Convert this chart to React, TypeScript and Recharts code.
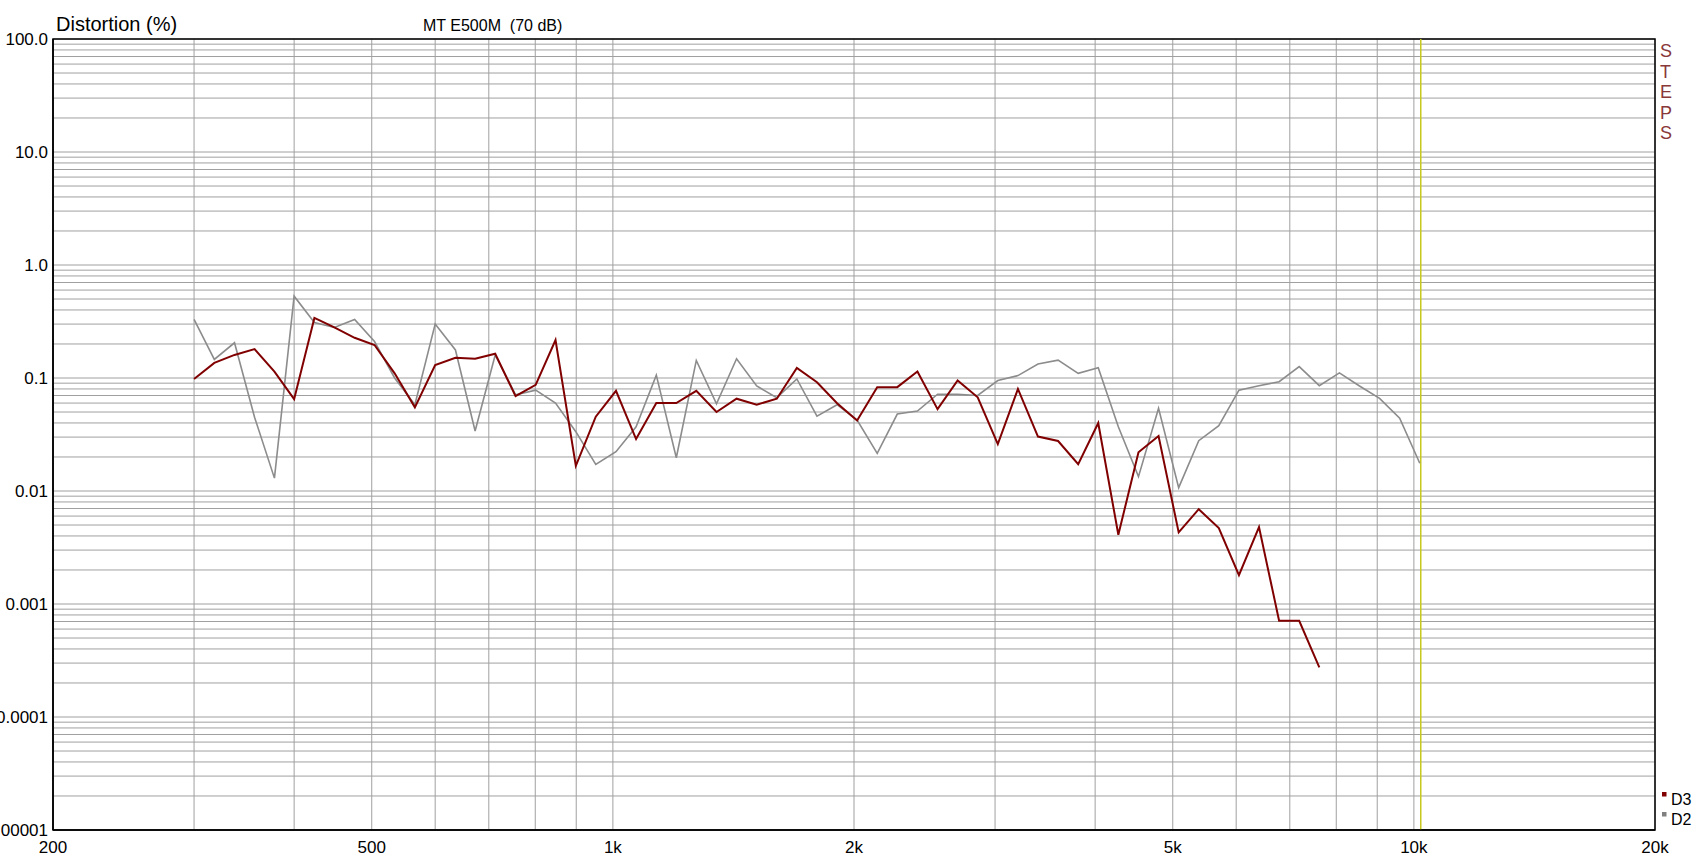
import { LineChart, Line, XAxis, YAxis, CartesianGrid, ReferenceLine, ReferenceArea } from "recharts";

// 1/12 octave measurement points (Hz)
const freqs = [
    300, 318, 337, 357, 378, 400, 424, 449, 476, 504, 534, 566, 600, 636, 673, 713, 756, 801, 848, 899,
    952, 1009, 1069, 1133, 1200, 1271, 1347, 1427, 1512, 1602, 1697, 1798, 1905, 2018, 2138, 2265, 2400,
    2543, 2694, 2854, 3024, 3204, 3394, 3596, 3810, 4036, 4276, 4531, 4800, 5086, 5388, 5708, 6048, 6407,
    6788, 7192, 7620, 8073, 8553, 9061, 9600, 10171,
];

// third harmonic distortion (%)
const d3 = [
    0.098, 0.136, 0.16, 0.18, 0.114, 0.065, 0.34, 0.28, 0.227, 0.196, 0.11, 0.055, 0.13, 0.151, 0.148,
    0.164, 0.069, 0.087, 0.217, 0.0167, 0.0455, 0.077, 0.0288, 0.06, 0.06, 0.077, 0.05, 0.0656, 0.058,
    0.0656, 0.123, 0.0916, 0.0597, 0.042, 0.083, 0.083, 0.114, 0.053, 0.095, 0.0675, 0.026, 0.08, 0.0303,
    0.0277, 0.0173, 0.04, 0.0041, 0.022, 0.0307, 0.0043, 0.0069, 0.0047, 0.0018, 0.0048, 0.00071, 0.00071,
    0.000275,
];

// second harmonic distortion (%)
const d2 = [
    0.33, 0.146, 0.205, 0.045, 0.013, 0.53, 0.31, 0.28, 0.33, 0.21, 0.1, 0.058, 0.3, 0.177, 0.034, 0.16,
    0.071, 0.078, 0.06, 0.0335, 0.0172, 0.0223, 0.037, 0.106, 0.0197, 0.143, 0.059, 0.148, 0.085, 0.067,
    0.098, 0.046, 0.058, 0.0425, 0.0215, 0.048, 0.051, 0.0718, 0.0718, 0.07, 0.095, 0.105, 0.133, 0.144,
    0.11, 0.123, 0.037, 0.0134, 0.054, 0.0107, 0.0279, 0.0379, 0.078, 0.0855, 0.0927, 0.126, 0.0855,
    0.111, 0.085, 0.066, 0.044, 0.0176,
];

const xGrid = [
    200, 300, 400, 500, 600, 700, 800, 900, 1000, 2000, 3000, 4000, 5000, 6000, 7000, 8000, 9000, 10000, 20000,
];
const xLabels: Record<number, string> = {
    200: "200", 500: "500", 1000: "1k", 2000: "2k", 5000: "5k", 10000: "10k", 20000: "20k",
};

const decades = [0.00001, 0.0001, 0.001, 0.01, 0.1, 1, 10, 100];
const decadeLabels = ["0.00001", "0.0001", "0.001", "0.01", "0.1", "1.0", "10.0", "100.0"];
const mults = [1, 2, 3, 4, 5, 6, 7, 8, 9];

const markerFreq = 10200;
const legend = [
    { name: "D3", color: "#800000" },
    { name: "D2", color: "#808080" },
];
const steps = ["S", "T", "E", "P", "S"];

const rows = freqs.map((f, i) => ({ f, d2: d2[i], d3: d3[i] }));
const yTicks = decades.flatMap((d, i) => (i === decades.length - 1 ? [d] : mults.map((m) => d * m)));
const yFmt = (v: number) => {
    const i = decades.indexOf(v);
    return i >= 0 ? decadeLabels[i] : "";
};

const FONT = "'Liberation Sans', Arial, sans-serif";
const W = 1695;
const H = 857;

export default function App() {
    return (
        <div style={{ position: "absolute", left: 0, top: 0, width: W, height: H, background: "#fff" }}>
            <LineChart width={W} height={H} data={rows} margin={{ top: 39, right: 40, left: 0, bottom: 0 }}>
                <CartesianGrid stroke="#a0a0a0" strokeWidth={1} />
                <XAxis
                    dataKey="f"
                    type="number"
                    scale="log"
                    domain={[200, 20000]}
                    allowDataOverflow
                    ticks={xGrid}
                    interval={0}
                    tickFormatter={(v) => xLabels[v] ?? ""}
                    tickLine={false}
                    tickSize={0}
                    tickMargin={11}
                    height={27}
                    axisLine={{ stroke: "#000", strokeWidth: 1.5 }}
                    tick={{ fontSize: 17, fill: "#000", fontFamily: FONT }}
                />
                <YAxis
                    type="number"
                    scale="log"
                    domain={[0.00001, 100]}
                    allowDataOverflow
                    ticks={yTicks}
                    interval={0}
                    tickFormatter={yFmt}
                    tickLine={false}
                    tickSize={0}
                    tickMargin={5}
                    width={53}
                    axisLine={{ stroke: "#000", strokeWidth: 1.5 }}
                    tick={{ fontSize: 17, fill: "#000", fontFamily: FONT }}
                />
                <ReferenceLine x={markerFreq} stroke="#c8c81e" strokeWidth={1.5} />
                <ReferenceArea x1={200} x2={20000} y1={0.00001} y2={100} fill="none" stroke="#000" strokeWidth={1.5} />
                <Line
                    dataKey="d2"
                    type="linear"
                    stroke="#8c8c8c"
                    strokeWidth={1.6}
                    dot={false}
                    isAnimationActive={false}
                />
                <Line
                    dataKey="d3"
                    type="linear"
                    stroke="#800000"
                    strokeWidth={2}
                    dot={false}
                    isAnimationActive={false}
                />
            </LineChart>
            <svg
                width={W}
                height={H}
                style={{ position: "absolute", left: 0, top: 0, pointerEvents: "none" }}
                fontFamily={FONT}
            >
                <text x={56} y={31} fontSize={20} fill="#000">
                    Distortion (%)
                </text>
                <text x={423} y={31} fontSize={16} fill="#000" style={{ whiteSpace: "pre" }}>
                    MT E500M  (70 dB)
                </text>
                {steps.map((s, i) => (
                    <text key={i} x={1660} y={57 + i * 20.5} fontSize={18} fill="#883838">
                        {s}
                    </text>
                ))}
                {legend.map((l, i) => (
                    <g key={l.name}>
                        <rect x={1662} y={792 + i * 20} width={4.5} height={4.5} fill={l.color} />
                        <text x={1671} y={805 + i * 20} fontSize={16} fill="#000">
                            {l.name}
                        </text>
                    </g>
                ))}
            </svg>
        </div>
    );
}
